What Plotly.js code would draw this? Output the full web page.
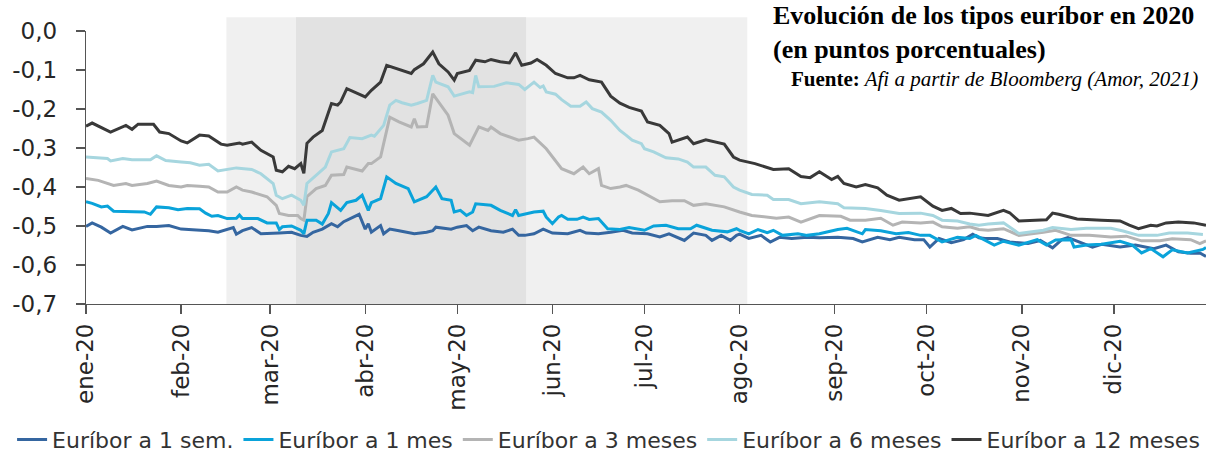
<!DOCTYPE html>
<html>
<head>
<meta charset="utf-8">
<script src="https://cdn.plot.ly/plotly-3.0.1.min.js"></script>
<style>html,body{margin:0;padding:0;background:#fff;}#chart{width:1209px;height:457px;}</style>
</head>
<body>
<div id="chart"></div>
<script>
// ---- Data (day of year 2020, value in percentage points) ----
const nombres = ['Euríbor a 1 sem.', 'Euríbor a 1 mes', 'Euríbor a 3 meses', 'Euríbor a 6 meses', 'Euríbor a 12 meses'];

const dias1s = [0,2,5,8,12,15,20,23,27,31,36,40,43,48,49,51,54,57,63,67,70,72,74,77,80,82,84,89,91,92,93,96,97,99,102,107,111,113,114,119,121,124,126,128,132,136,139,141,143,146,149,152,157,161,163,167,171,175,178,183,187,190,195,198,202,204,207,210,212,213,216,220,223,226,230,235,239,245,250,253,258,262,265,270,273,275,278,282,286,289,291,293,297,301,307,311,315,318,320,324,328,331,337,342,348,352,356,360,363,365];
const eur1s = [-0.501,-0.492,-0.503,-0.518,-0.501,-0.510,-0.501,-0.501,-0.499,-0.508,-0.510,-0.512,-0.516,-0.504,-0.521,-0.512,-0.504,-0.520,-0.518,-0.516,-0.524,-0.527,-0.516,-0.508,-0.494,-0.502,-0.489,-0.470,-0.508,-0.494,-0.516,-0.499,-0.520,-0.508,-0.512,-0.520,-0.516,-0.512,-0.503,-0.508,-0.503,-0.499,-0.512,-0.503,-0.512,-0.516,-0.508,-0.524,-0.524,-0.520,-0.508,-0.518,-0.520,-0.511,-0.518,-0.520,-0.516,-0.511,-0.518,-0.520,-0.528,-0.520,-0.537,-0.518,-0.524,-0.537,-0.524,-0.537,-0.524,-0.521,-0.532,-0.524,-0.541,-0.529,-0.532,-0.529,-0.530,-0.529,-0.532,-0.541,-0.529,-0.535,-0.529,-0.535,-0.535,-0.554,-0.532,-0.543,-0.535,-0.521,-0.530,-0.532,-0.532,-0.541,-0.545,-0.537,-0.556,-0.535,-0.530,-0.541,-0.554,-0.547,-0.554,-0.549,-0.558,-0.549,-0.566,-0.570,-0.569,-0.578];

const dias1m = [0,2,5,7,9,15,19,21,23,27,30,33,37,39,41,43,46,49,50,51,56,59,62,63,64,67,70,71,72,75,77,79,80,83,85,88,90,92,93,96,98,101,105,107,111,114,116,119,120,122,124,126,127,132,135,139,140,141,145,146,149,150,152,154,155,157,160,162,164,167,170,174,177,182,185,189,193,197,199,204,209,212,213,216,219,222,224,227,232,235,239,245,248,251,253,254,259,264,268,272,275,279,284,288,290,296,299,304,310,313,316,321,322,326,331,337,341,344,347,351,354,359,364,365];
const eur1m = [-0.438,-0.442,-0.451,-0.449,-0.462,-0.464,-0.464,-0.470,-0.451,-0.453,-0.458,-0.455,-0.456,-0.467,-0.475,-0.473,-0.481,-0.480,-0.472,-0.481,-0.481,-0.492,-0.492,-0.509,-0.502,-0.500,-0.511,-0.520,-0.485,-0.485,-0.495,-0.468,-0.440,-0.460,-0.440,-0.434,-0.421,-0.460,-0.440,-0.430,-0.374,-0.391,-0.404,-0.438,-0.425,-0.400,-0.430,-0.434,-0.464,-0.460,-0.473,-0.464,-0.443,-0.447,-0.460,-0.473,-0.458,-0.473,-0.467,-0.464,-0.462,-0.477,-0.494,-0.477,-0.473,-0.483,-0.483,-0.477,-0.483,-0.481,-0.507,-0.509,-0.504,-0.511,-0.500,-0.498,-0.507,-0.507,-0.498,-0.511,-0.515,-0.507,-0.511,-0.520,-0.509,-0.517,-0.511,-0.524,-0.520,-0.524,-0.520,-0.509,-0.506,-0.515,-0.520,-0.509,-0.512,-0.520,-0.517,-0.524,-0.524,-0.541,-0.529,-0.532,-0.524,-0.549,-0.539,-0.549,-0.535,-0.549,-0.536,-0.535,-0.554,-0.549,-0.547,-0.539,-0.549,-0.569,-0.558,-0.579,-0.561,-0.569,-0.560,-0.555];

const dias3m = [0,4,9,13,15,20,23,27,31,33,37,40,43,46,49,51,54,59,62,63,66,69,70,71,72,75,78,80,84,85,90,92,93,96,97,99,102,106,107,108,111,113,118,120,125,128,131,132,135,138,141,144,146,150,152,155,159,162,164,167,168,171,174,176,180,183,187,191,195,198,202,208,211,213,217,223,225,229,233,239,246,249,254,259,263,266,272,276,279,284,288,291,294,299,304,312,316,321,327,334,339,344,350,354,360,363,365];
const eur3m = [-0.378,-0.383,-0.396,-0.391,-0.396,-0.391,-0.385,-0.396,-0.400,-0.396,-0.398,-0.400,-0.413,-0.413,-0.400,-0.408,-0.413,-0.425,-0.447,-0.468,-0.473,-0.473,-0.481,-0.485,-0.425,-0.404,-0.396,-0.370,-0.368,-0.349,-0.359,-0.340,-0.340,-0.323,-0.289,-0.221,-0.233,-0.246,-0.225,-0.246,-0.245,-0.161,-0.216,-0.263,-0.293,-0.246,-0.255,-0.246,-0.263,-0.272,-0.280,-0.276,-0.272,-0.302,-0.323,-0.353,-0.366,-0.349,-0.366,-0.353,-0.396,-0.404,-0.400,-0.396,-0.408,-0.421,-0.438,-0.435,-0.435,-0.447,-0.443,-0.451,-0.460,-0.464,-0.473,-0.477,-0.480,-0.477,-0.490,-0.473,-0.475,-0.485,-0.485,-0.480,-0.498,-0.490,-0.492,-0.490,-0.502,-0.506,-0.502,-0.509,-0.511,-0.507,-0.524,-0.516,-0.511,-0.524,-0.524,-0.528,-0.526,-0.538,-0.538,-0.533,-0.535,-0.545,-0.538];

const dias6m = [0,4,7,8,12,15,21,23,26,31,34,37,40,43,46,49,54,57,61,62,64,67,70,71,72,75,78,80,84,86,90,93,94,97,99,101,103,106,108,111,113,114,118,120,125,126,127,128,133,137,141,143,146,148,149,150,153,155,158,161,163,165,168,171,174,176,178,181,182,185,189,193,196,198,202,205,208,211,213,217,222,224,229,233,239,245,247,254,259,265,272,276,279,284,288,291,294,299,304,312,315,321,326,334,338,343,349,353,359,364];
const eur6m = [-0.323,-0.325,-0.327,-0.333,-0.327,-0.330,-0.330,-0.320,-0.332,-0.336,-0.338,-0.344,-0.342,-0.359,-0.355,-0.351,-0.355,-0.366,-0.391,-0.421,-0.430,-0.421,-0.434,-0.447,-0.391,-0.370,-0.349,-0.310,-0.302,-0.273,-0.276,-0.267,-0.270,-0.242,-0.190,-0.178,-0.184,-0.190,-0.186,-0.178,-0.114,-0.131,-0.143,-0.167,-0.156,-0.158,-0.114,-0.143,-0.142,-0.133,-0.137,-0.150,-0.131,-0.145,-0.141,-0.156,-0.162,-0.176,-0.193,-0.193,-0.182,-0.199,-0.208,-0.229,-0.255,-0.267,-0.280,-0.289,-0.302,-0.310,-0.325,-0.328,-0.336,-0.349,-0.349,-0.370,-0.374,-0.400,-0.408,-0.419,-0.421,-0.432,-0.432,-0.443,-0.438,-0.443,-0.453,-0.455,-0.460,-0.468,-0.467,-0.473,-0.485,-0.487,-0.495,-0.498,-0.495,-0.492,-0.519,-0.511,-0.504,-0.509,-0.506,-0.506,-0.513,-0.524,-0.524,-0.518,-0.518,-0.522];

const dias12m = [0,2,8,13,15,17,22,24,27,31,33,37,40,44,46,50,51,54,57,61,62,64,66,68,70,71,72,74,77,80,82,83,85,88,91,93,96,98,102,106,107,110,113,115,118,120,121,125,127,130,132,135,138,140,142,145,147,150,153,157,159,161,164,168,171,174,177,181,183,187,190,191,196,198,202,208,211,213,218,224,229,233,236,239,243,245,247,251,254,258,261,265,272,276,279,282,285,288,294,299,301,304,313,315,317,321,323,331,337,340,343,347,349,352,356,361,365];
const eur12m = [-0.244,-0.236,-0.259,-0.242,-0.252,-0.239,-0.239,-0.259,-0.263,-0.282,-0.287,-0.267,-0.269,-0.290,-0.293,-0.287,-0.290,-0.285,-0.306,-0.323,-0.357,-0.361,-0.347,-0.353,-0.340,-0.365,-0.288,-0.272,-0.255,-0.186,-0.190,-0.182,-0.148,-0.159,-0.169,-0.152,-0.131,-0.088,-0.099,-0.109,-0.099,-0.084,-0.054,-0.084,-0.105,-0.126,-0.109,-0.101,-0.075,-0.079,-0.073,-0.079,-0.082,-0.056,-0.088,-0.082,-0.073,-0.088,-0.109,-0.120,-0.120,-0.114,-0.125,-0.131,-0.167,-0.185,-0.196,-0.205,-0.233,-0.242,-0.263,-0.285,-0.272,-0.289,-0.279,-0.290,-0.323,-0.331,-0.340,-0.355,-0.353,-0.373,-0.376,-0.361,-0.381,-0.373,-0.391,-0.400,-0.394,-0.402,-0.421,-0.434,-0.425,-0.449,-0.460,-0.455,-0.468,-0.467,-0.473,-0.460,-0.466,-0.487,-0.484,-0.467,-0.470,-0.479,-0.482,-0.485,-0.487,-0.498,-0.507,-0.498,-0.500,-0.492,-0.490,-0.492,-0.498];

const mesesTick = ['2020-01-01','2020-02-01','2020-03-01','2020-04-01','2020-05-01','2020-06-01','2020-07-01','2020-08-01','2020-09-01','2020-10-01','2020-11-01','2020-12-01'];
const etiquetasMes = ['ene-20','feb-20','mar-20','abr-20','may-20','jun-20','jul-20','ago-20','sep-20','oct-20','nov-20','dic-20'];
const valoresY = [0, -0.1, -0.2, -0.3, -0.4, -0.5, -0.6, -0.7];
const etiquetasY = ['0,0', '-0,1', '-0,2', '-0,3', '-0,4', '-0,5', '-0,6', '-0,7'];

// shaded periods
const periodoClaro = ['2020-02-15 18:00', '2020-08-03 12:00'];
const periodoOscuro = ['2020-03-09 10:00', '2020-05-23 10:00'];

const colores = ['#3566a0', '#0aa3da', '#b4b4b4', '#a6d6df', '#393939'];

function fecha(d) {
  const t = new Date(Date.UTC(2020, 0, 1));
  t.setUTCDate(1 + d);
  return t.toISOString().slice(0, 10);
}

const series = [[dias1s, eur1s], [dias1m, eur1m], [dias3m, eur3m], [dias6m, eur6m], [dias12m, eur12m]];
const traces = series.map((s, i) => ({
  type: 'scatter', mode: 'lines',
  x: s[0].map(fecha), y: s[1],
  name: nombres[i],
  line: {color: colores[i], width: 3},
  hoverinfo: 'skip'
}));

const layout = {
  width: 1209, height: 457,
  margin: {l: 86, r: 3, t: 31, b: 153, autoexpand: false},
  paper_bgcolor: '#ffffff', plot_bgcolor: 'rgba(0,0,0,0)',
  font: {family: 'DejaVu Sans', color: '#262626'},
  xaxis: {
    type: 'date', range: ['2020-01-01', '2020-12-31'],
    tickmode: 'array', tickvals: mesesTick, ticktext: etiquetasMes,
    tickangle: -90, ticks: 'outside', ticklen: 9, tickcolor: '#555', tickwidth: 1.3,
    showline: true, linecolor: '#555', linewidth: 1.3,
    showgrid: false, zeroline: false, automargin: false,
    tickfont: {family: 'DejaVu Sans', size: 23, color: '#262626'}
  },
  yaxis: {
    range: [-0.7, 0],
    tickmode: 'array', tickvals: valoresY, ticktext: etiquetasY,
    ticks: 'outside', ticklen: 9, tickcolor: '#555', tickwidth: 1.3,
    showline: true, linecolor: '#555', linewidth: 1.3,
    showgrid: false, zeroline: false, automargin: false,
    ticklabelstandoff: 14,
    tickfont: {family: 'DejaVu Sans', size: 23, color: '#262626'}
  },
  shapes: [
    {type: 'rect', layer: 'below', xref: 'x', yref: 'paper', x0: periodoClaro[0], x1: periodoClaro[1], y0: 0, y1: 1.05, fillcolor: '#f0f0f0', line: {width: 0}},
    {type: 'rect', layer: 'below', xref: 'x', yref: 'paper', x0: periodoOscuro[0], x1: periodoOscuro[1], y0: 0, y1: 1.05, fillcolor: '#e2e2e2', line: {width: 0}}
  ],
  showlegend: true,
  legend: {
    orientation: 'h', x: -0.066, xanchor: 'left', y: -0.42, yanchor: 'top',
    font: {family: 'DejaVu Sans', size: 22, color: '#333'},
    bgcolor: 'rgba(0,0,0,0)', itemwidth: 30, tracegroupgap: 0
  },
  annotations: [
    {xref: 'paper', yref: 'paper', x: 0.6116, y: 0.996, xanchor: 'left', yanchor: 'middle', align: 'left', showarrow: false,
     text: '<b>Evolución de los tipos euríbor en 2020</b><br><b>(en puntos porcentuales)</b>', font: {family: 'Liberation Serif', size: 26, color: '#000'}},
    {xref: 'paper', yref: 'paper', x: 0.9946, y: 0.824, xanchor: 'right', yanchor: 'middle', showarrow: false,
     text: '<b>Fuente:</b><i> Afi a partir de Bloomberg (Amor, 2021)</i>', font: {family: 'Liberation Serif', size: 21, color: '#000'}}
  ]
};

Plotly.newPlot('chart', traces, layout, {staticPlot: true, displayModeBar: false});
</script>
</body>
</html>
